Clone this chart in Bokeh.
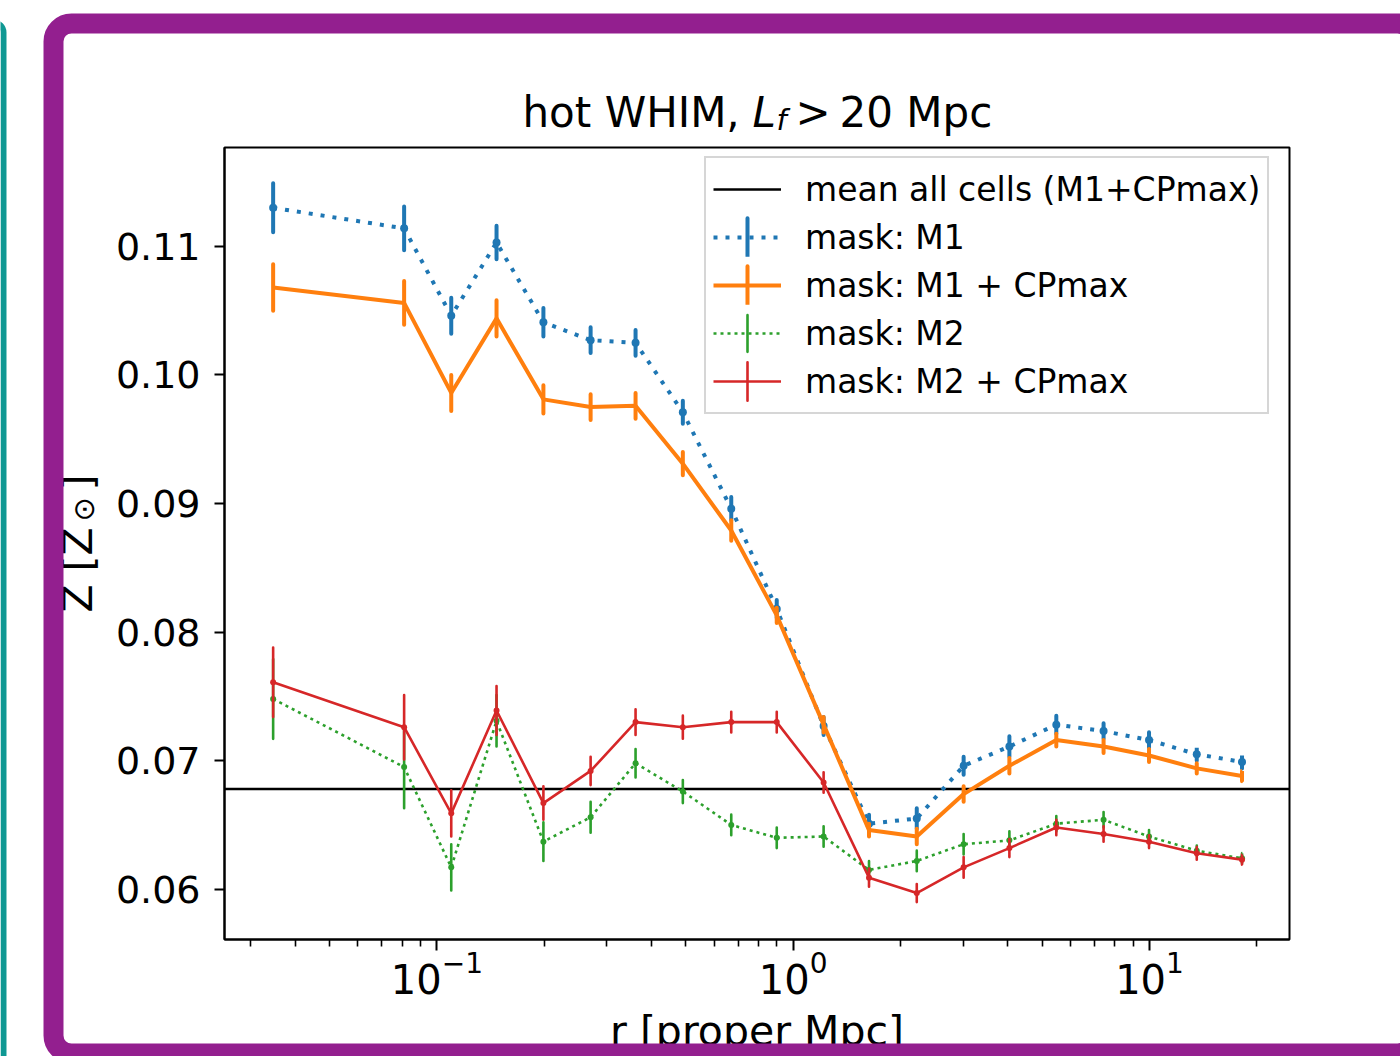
import numpy as np
from bokeh.plotting import figure
from bokeh.models import (Range1d, FixedTicker, PrintfTickFormatter, LogTickFormatter,
                          Legend, LegendItem, Label, BoxAnnotation, ColumnDataSource)
from bokeh.embed import file_html
from bokeh.resources import INLINE

# ---------------- data ----------------
r = [0.0347, 0.0809, 0.1097, 0.147, 0.199, 0.270, 0.361, 0.490, 0.670, 0.899,
     1.217, 1.632, 2.222, 3.008, 4.043, 5.475, 7.431, 9.968, 13.57, 18.18]

m1 = [0.1130, 0.1114, 0.1046, 0.1103, 0.1041, 0.1027, 0.1025, 0.0971, 0.0896, 0.0818,
      0.0727, 0.0651, 0.0655, 0.0696, 0.0711, 0.0728, 0.0723, 0.0716, 0.0705, 0.0699]
m1_err = [0.0019, 0.0017, 0.0014, 0.0013, 0.0011, 0.0010, 0.0010, 0.0009, 0.0009, 0.0007,
          0.0007, 0.0007, 0.0008, 0.0007, 0.0008, 0.0007, 0.0006, 0.0006, 0.0005, 0.0005]

m1cp = [0.1068, 0.1056, 0.0986, 0.1044, 0.0981, 0.0975, 0.0976, 0.0931, 0.0879, 0.0813,
        0.0728, 0.0646, 0.0641, 0.0674, 0.0696, 0.0716, 0.0711, 0.0704, 0.0694, 0.0688]
m1cp_err = [0.0018, 0.0017, 0.0014, 0.0014, 0.0011, 0.0010, 0.0010, 0.0009, 0.0008, 0.0006,
            0.0006, 0.0005, 0.0006, 0.0006, 0.0006, 0.0005, 0.0005, 0.0005, 0.0004, 0.0004]

m2 = [0.0748, 0.0695, 0.0617, 0.0731, 0.0637, 0.0656, 0.0698, 0.0676, 0.0650, 0.0640,
      0.0641, 0.0615, 0.0622, 0.0635, 0.0638, 0.0651, 0.0654, 0.0641, 0.0630, 0.0624]
m2_err = [0.0031, 0.0032, 0.0018, 0.0020, 0.0015, 0.0012, 0.0011, 0.0009, 0.0008, 0.0008,
          0.0008, 0.0007, 0.0008, 0.0008, 0.0007, 0.0006, 0.0006, 0.0005, 0.0004, 0.0004]

m2cp = [0.0761, 0.0726, 0.0659, 0.0739, 0.0667, 0.0692, 0.0730, 0.0726, 0.0730, 0.0730,
        0.0683, 0.0609, 0.0597, 0.0617, 0.0632, 0.0648, 0.0643, 0.0637, 0.0628, 0.0623]
m2cp_err = [0.0027, 0.0025, 0.0018, 0.0019, 0.0013, 0.0011, 0.0010, 0.0009, 0.0008, 0.0008,
            0.0008, 0.0007, 0.0007, 0.0008, 0.0007, 0.0006, 0.0006, 0.0005, 0.0005, 0.0004]

mean_all = 0.0678

labels = ["mean all cells (M1+CPmax)", "mask: M1", "mask: M1 + CPmax", "mask: M2", "mask: M2 + CPmax"]
x_major = [0.1, 1.0, 10.0]
x_minor = [0.03, 0.04, 0.05, 0.06, 0.07, 0.08, 0.09,
           0.2, 0.3, 0.4, 0.5, 0.6, 0.7, 0.8, 0.9,
           2, 3, 4, 5, 6, 7, 8, 9, 20]
y_ticks = [0.06, 0.07, 0.08, 0.09, 0.10, 0.11]

# axis limits
XLO, XHI = 0.02534, 24.71
YLO, YHI = 0.05609, 0.11769

# ---------------- layout: axes box position on the page ----------------
W, H = 1400, 1056
BOX_L, BOX_R, BOX_T, BOX_B = 224, 1289, 147, 939
kx = (np.log10(XHI) - np.log10(XLO)) / (BOX_R - BOX_L)
CX0 = 10 ** (np.log10(XLO) - kx * BOX_L)
CX1 = 10 ** (np.log10(XHI) + kx * (W - BOX_R))
ky = (YHI - YLO) / (BOX_B - BOX_T)
CY1 = YHI + ky * BOX_T
CY0 = YLO - ky * (H - BOX_B)

FONT = "DejaVu Sans"
p = figure(width=W, height=H, x_axis_type="log", title=None,
           x_range=Range1d(CX0, CX1), y_range=Range1d(CY0, CY1),
           output_backend="svg", toolbar_location=None,
           min_border=0, min_border_left=0, min_border_right=0,
           min_border_top=0, min_border_bottom=0)
p.grid.visible = False
p.background_fill_color = "white"
p.border_fill_color = "white"
p.outline_line_color = None

for ax in (p.xaxis[0], p.yaxis[0]):
    ax.axis_line_width = 2
    ax.axis_line_color = "black"
    ax.major_tick_line_width = 2
    ax.minor_tick_line_width = 1.6
    ax.major_tick_in = 0
    ax.minor_tick_in = 0
    ax.major_label_text_font = FONT
    ax.major_label_text_color = "black"

p.xaxis.fixed_location = YLO
p.xaxis.bounds = (XLO, XHI)
p.xaxis.ticker = FixedTicker(ticks=x_major, minor_ticks=x_minor)
p.xaxis.formatter = LogTickFormatter()
p.xaxis.major_tick_out = 11
p.xaxis.minor_tick_out = 7
p.xaxis.major_label_standoff = 0
p.xaxis.major_label_text_font_size = "40px"

p.yaxis.fixed_location = XLO
p.yaxis.bounds = (YLO, YHI)
p.yaxis.ticker = FixedTicker(ticks=y_ticks, minor_ticks=[])
p.yaxis.formatter = PrintfTickFormatter(format="%.2f")
p.yaxis.major_tick_out = 10
p.yaxis.minor_tick_out = 0
p.yaxis.major_label_standoff = 14
p.yaxis.major_label_text_font_size = "38px"

# axes box (spines)
p.add_layout(BoxAnnotation(left=XLO, right=XHI, bottom=YLO, top=YHI,
                           fill_alpha=0, line_color="black", line_alpha=1.0,
                           line_width=2, level="guide"))

src = ColumnDataSource(dict(
    r=r,
    m1=m1, m1_h=[2 * e for e in m1_err],
    m1cp=m1cp, m1cp_h=[2 * e for e in m1cp_err],
    m2=m2, m2_h=[2 * e for e in m2_err],
    m2cp=m2cp, m2cp_h=[2 * e for e in m2cp_err],
))

mean_r = p.line(x=[XLO, XHI], y=[mean_all, mean_all], line_color="black", line_width=2.6)

series = [
    ("m1", "#1f77b4", 4.0, "4 8", 8),
    ("m1cp", "#ff7f0e", 4.0, "solid", 0),
    ("m2", "#2ca02c", 2.6, "3 4", 6),
    ("m2cp", "#d62728", 2.6, "solid", 6),
]
items = [LegendItem(label=labels[0], renderers=[mean_r])]
for i, (key, col, lw, dash, msize) in enumerate(series):
    ln = p.line("r", key, source=src, line_color=col, line_width=lw, line_dash=dash)
    eb = p.ellipse(x="r", y=key, width=0.01, width_units="screen", height=key + "_h",
                   source=src, fill_color=None, line_color=col, line_width=lw)
    if msize:
        p.scatter("r", key, source=src, size=msize, marker="circle",
                  fill_color=col, line_color=None)
    items.append(LegendItem(label=labels[i + 1], renderers=[ln, eb]))

legend = Legend(items=items, location=(704, H - 414))
legend.glyph_width = 68
legend.glyph_height = 48
legend.spacing = 0
legend.padding = 7
legend.margin = 0
legend.label_standoff = 24
legend.label_text_font = FONT
legend.label_text_font_size = "33px"
legend.label_text_color = "black"
legend.border_line_color = "#cccccc"
legend.border_line_width = 2
legend.border_line_alpha = 0.8
legend.background_fill_color = "white"
legend.background_fill_alpha = 0.8
p.add_layout(legend)

# ---------------- texts ----------------
def lab(text, x, y, size, style="normal", angle=0.0, align="left"):
    p.add_layout(Label(x=x, y=y, x_units="canvas", y_units="canvas", text=text,
                       text_font=FONT, text_font_size=size, text_font_style=style,
                       text_color="black", text_align=align, text_baseline="alphabetic",
                       angle=angle))

# title: hot WHIM, L_f > 20 Mpc
lab("hot WHIM,", 522, 112, "42px")
lab("L", 752, 112, "42px", "italic")
lab("f", 776, 119, "29px", "italic")
lab(">", 795, 112, "42px")
lab("20 Mpc", 839, 112, "42px")

# y label: Z [Z_sun]
lab("Z [Z", 77, 612, "41px", angle=np.pi / 2)
lab("\u2299", 83, 521, "29px", angle=np.pi / 2)
lab("]", 77, 490, "41px", angle=np.pi / 2)

# x label
lab("r [proper Mpc]", 756.5, 1030, "41px", align="center")

# ---------------- decorative frame ----------------
p.add_layout(BoxAnnotation(left=-40, right=3, top=22, bottom=1120,
                           left_units="canvas", right_units="canvas",
                           top_units="canvas", bottom_units="canvas",
                           fill_alpha=0, line_color="#0f9893", line_alpha=1.0,
                           line_width=6, border_radius=10))
p.add_layout(BoxAnnotation(left=53, right=1415, top=23, bottom=1053,
                           left_units="canvas", right_units="canvas",
                           top_units="canvas", bottom_units="canvas",
                           fill_alpha=0, line_color="#931f8f", line_alpha=1.0,
                           line_width=20, border_radius=18))

open("out.html", "w").write(file_html(p, INLINE))
